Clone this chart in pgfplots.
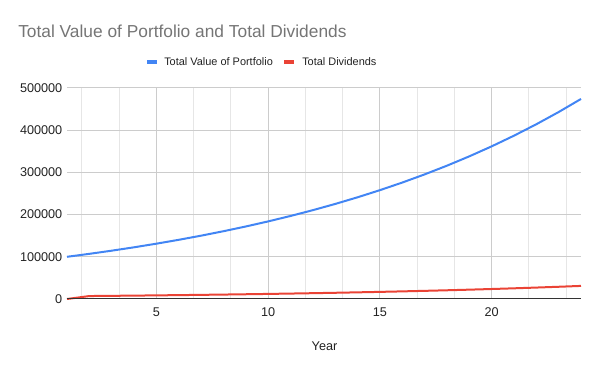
\documentclass[border=0pt]{standalone}
\usepackage{pgfplots}
\pgfplotsset{compat=1.18}
\usepackage{fontspec}
\setmainfont{Liberation Sans}
\definecolor{gblue}{HTML}{4285F4}
\definecolor{gred}{HTML}{EA4335}
\definecolor{titlegray}{HTML}{757575}
\definecolor{majgrid}{HTML}{CCCCCC}
\definecolor{mingrid}{HTML}{E6E6E6}
\definecolor{ticktext}{HTML}{222222}
\begin{document}
\begin{tikzpicture}[x=0.75pt,y=0.75pt]
\useasboundingbox (0,0) rectangle (600,371);
\begin{axis}[
  at={(67*0.75pt,72*0.75pt)}, anchor=south west,
  scale only axis, width=385.5pt, height=158.25pt,
  xmin=1, xmax=24, ymin=0, ymax=500000,
  xtick={5,10,15,20},
  minor xtick={1.6667,3.3333,6.6667,8.3333,11.6667,13.3333,16.6667,18.3333,21.6667,23.3333},
  ytick={0,100000,200000,300000,400000,500000},
  scaled y ticks=false,
  yticklabel style={/pgf/number format/.cd, fixed, 1000 sep={}, assume math mode=true},
  xticklabel style={/pgf/number format/assume math mode=true},
  ticklabel style={font=\fontsize{9.5pt}{11pt}\selectfont, text=ticktext},
  xmajorgrids, ymajorgrids, xminorgrids,
  major grid style={majgrid, line width=0.75pt},
  minor grid style={mingrid, line width=0.75pt},
  axis line style={draw=none},
  tick style={draw=none},
  xticklabel shift=3pt,
  yticklabel shift=0pt,
  clip=false,
]
\addplot[gblue, line width=1.5pt] coordinates {
(1,100000) (2,107000) (3,114490) (4,122504) (5,131080) (6,140255) (7,150073) (8,160578)
(9,171819) (10,183846) (11,196715) (12,210485) (13,225219) (14,240985) (15,257853) (16,275903)
(17,295216) (18,315882) (19,337993) (20,361653) (21,386968) (22,414056) (23,443040) (24,474053)
};
\addplot[gred, line width=1.5pt] coordinates {
(1,0) (2,7000) (3,7490) (4,8014) (5,8575) (6,9176) (7,9818) (8,10505)
(9,11240) (10,12027) (11,12869) (12,13770) (13,14734) (14,15765) (15,16869) (16,18049)
(17,19313) (18,20665) (19,22112) (20,23660) (21,25316) (22,27088) (23,28984) (24,31013)
};
\draw[color=black!80, line width=0.75pt] (axis cs:1,0) -- (axis cs:24,0);
\end{axis}
% title
\node[anchor=base west, inner sep=0, text=titlegray, font=\fontsize{13pt}{16pt}\selectfont] at (18,333) {Total Value of Portfolio and Total Dividends};
% legend
\draw[gblue, line width=3pt] (147,309) -- (157,309);
\node[anchor=west, inner sep=0, font=\fontsize{8.2pt}{10pt}\selectfont, text=ticktext] at (164,309) {Total Value of Portfolio};
\draw[gred, line width=3pt] (284,309) -- (294,309);
\node[anchor=west, inner sep=0, font=\fontsize{8.2pt}{10pt}\selectfont, text=ticktext] at (302,309) {Total Dividends};
% x label
\node[anchor=center, inner sep=0, font=\fontsize{9.5pt}{11pt}\selectfont, text=ticktext] at (324.5,25) {Year};
\end{tikzpicture}
\end{document}
